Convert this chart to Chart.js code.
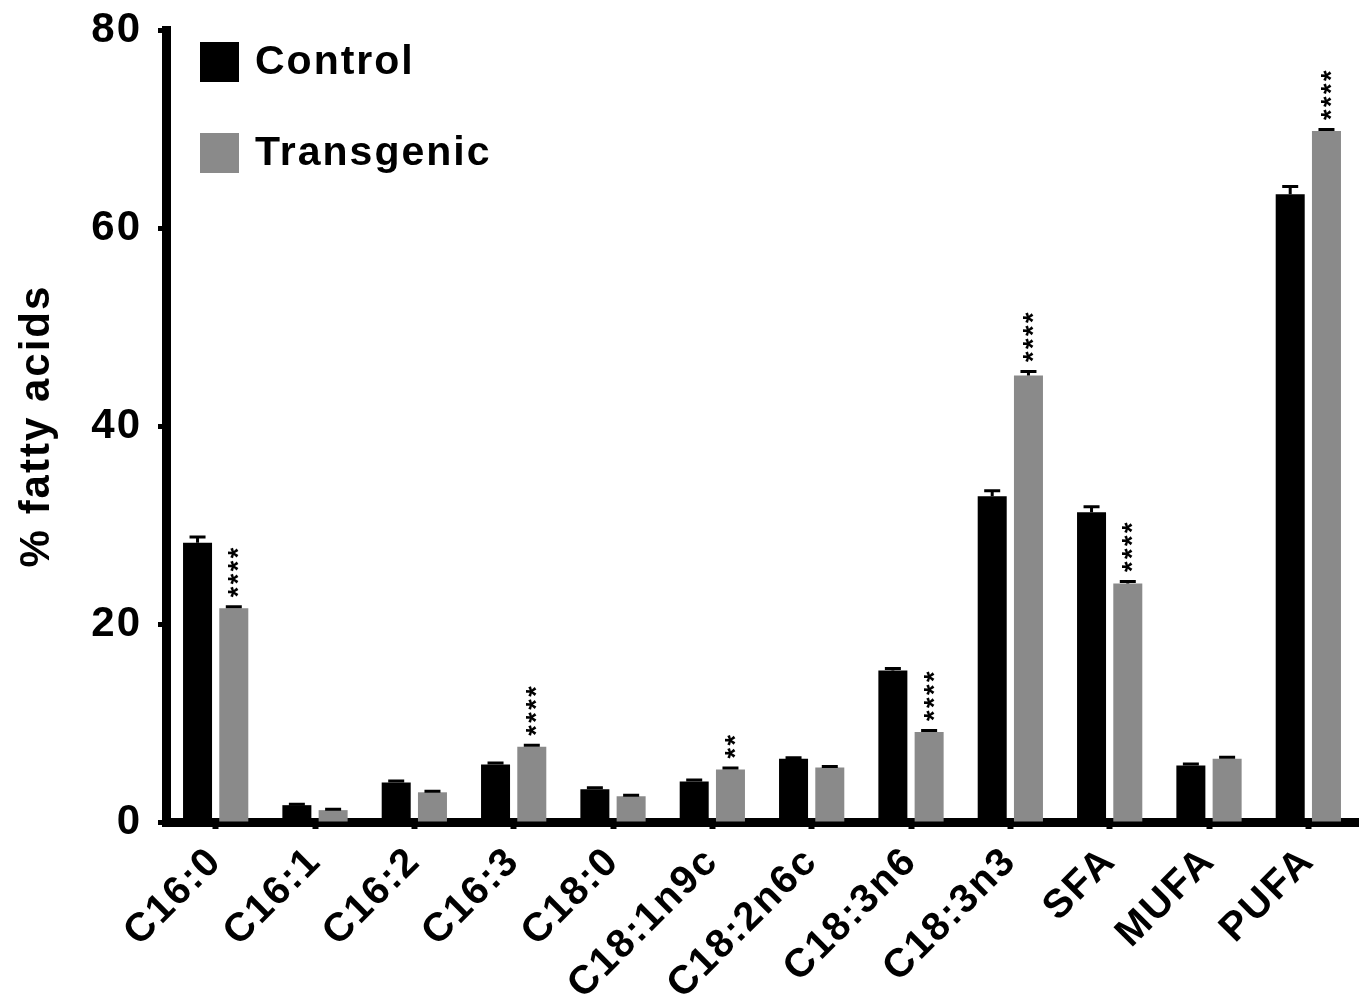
<!DOCTYPE html>
<html>
<head>
<meta charset="utf-8">
<script src="https://cdn.jsdelivr.net/npm/chart.js@4/dist/chart.umd.min.js"></script>
<style>
html,body{margin:0;padding:0;background:#fff;}
#wrap{width:1366px;height:1002px;position:relative;}
</style>
</head>
<body>
<div id="wrap"><canvas id="c"></canvas></div>
<script>
const categories = ['C16:0','C16:1','C16:2','C16:3','C18:0','C18:1n9c','C18:2n6c','C18:3n6','C18:3n3','SFA','MUFA','PUFA'];
const controlValues = [28.2, 1.7, 4.0, 5.8, 3.3, 4.1, 6.4, 15.3, 32.9, 31.3, 5.7, 63.4];
const transgenicValues = [21.6, 1.2, 3.0, 7.6, 2.6, 5.3, 5.5, 9.1, 45.1, 24.1, 6.4, 69.8];
const controlErrors = [0.6, 0.1, 0.15, 0.15, 0.15, 0.15, 0.1, 0.2, 0.55, 0.55, 0.15, 0.8];
const transgenicErrors = [0.15, 0.1, 0.1, 0.15, 0.1, 0.15, 0.1, 0.15, 0.4, 0.2, 0.15, 0.15];
const transgenicSignif = ['****','','','****','','**','','****','****','****','','****'];
const yTicks = [0, 20, 40, 60, 80];

const FONT = "'Liberation Sans', Arial, sans-serif";

const spacingPlugin = {
  id: 'letterSpacing',
  beforeLayout(chart) { if ('letterSpacing' in chart.ctx) chart.ctx.letterSpacing = '2px'; },
  beforeDraw(chart) { if ('letterSpacing' in chart.ctx) chart.ctx.letterSpacing = '2px'; }
};

const errorBarPlugin = {
  id: 'errorBars',
  afterDatasetsDraw(chart) {
    const ctx = chart.ctx;
    const y = chart.scales.y;
    chart.data.datasets.forEach((ds, di) => {
      const meta = chart.getDatasetMeta(di);
      meta.data.forEach((bar, i) => {
        const v = ds.data[i];
        const e = ds.errors[i];
        const yTop = y.getPixelForValue(v + e);
        ctx.save();
        ctx.strokeStyle = '#000';
        ctx.lineWidth = 3;
        ctx.beginPath();
        ctx.moveTo(bar.x, bar.y);
        ctx.lineTo(bar.x, yTop);
        ctx.moveTo(bar.x - 8, yTop);
        ctx.lineTo(bar.x + 8, yTop);
        ctx.stroke();
        const s = ds.signif ? ds.signif[i] : '';
        if (s) {
          ctx.fillStyle = '#000';
          ctx.font = 'bold 27px ' + FONT;
          if ('letterSpacing' in ctx) ctx.letterSpacing = '0px';
          ctx.textAlign = 'left';
          ctx.textBaseline = 'alphabetic';
          const m = ctx.measureText('*');
          const cxOff = (m.actualBoundingBoxRight - m.actualBoundingBoxLeft) / 2;
          const cyOff = (m.actualBoundingBoxAscent - m.actualBoundingBoxDescent) / 2;
          const step = 13;
          for (let k = 0; k < s.length; k++) {
            const cy = yTop - 15 - k * step;
            ctx.save();
            ctx.translate(bar.x, cy);
            ctx.rotate(-Math.PI / 2);
            ctx.fillText('*', -cxOff, cyOff);
            ctx.restore();
          }
        }
        ctx.restore();
      });
    });
  }
};

const legendPlugin = {
  id: 'customLegend',
  afterDraw(chart) {
    const ctx = chart.ctx;
    ctx.save();
    chart.data.datasets.forEach((ds, i) => {
      const top = 42 + i * 91;
      ctx.fillStyle = ds.backgroundColor;
      ctx.fillRect(200, top, 39, 40);
      ctx.fillStyle = '#000';
      ctx.font = 'bold 41px ' + FONT;
      if ('letterSpacing' in ctx) ctx.letterSpacing = '2px';
      ctx.textAlign = 'left';
      ctx.textBaseline = 'middle';
      ctx.fillText(ds.label, 255, top + 21);
    });
    ctx.restore();
  }
};

new Chart(document.getElementById('c'), {
  type: 'bar',
  data: {
    labels: categories,
    datasets: [
      { label: 'Control', data: controlValues, errors: controlErrors, backgroundColor: '#000000', borderWidth: 0 },
      { label: 'Transgenic', data: transgenicValues, errors: transgenicErrors, signif: transgenicSignif, backgroundColor: '#8a8a8a', borderWidth: 0 }
    ]
  },
  options: {
    responsive: true,
    maintainAspectRatio: false,
    animation: false,
    categoryPercentage: 0.73,
    barPercentage: 0.8,
    layout: { padding: { top: 30, right: 8, left: 0, bottom: 0 } },
    plugins: { legend: { display: false }, tooltip: { enabled: false } },
    scales: {
      x: {
        offset: true,
        grid: { display: true, offset: false, drawOnChartArea: false, drawTicks: true, tickLength: 7, tickWidth: 6, tickColor: '#000' },
        border: { display: true, color: '#000', width: 9 },
        ticks: { color: '#000', font: { family: FONT, size: 40, weight: 'bold' }, minRotation: 45, maxRotation: 45, padding: 9, autoSkip: false },
        afterFit(scale) { scale.height = 180; }
      },
      y: {
        min: 0, max: 80,
        afterBuildTicks(scale) { scale.ticks = yTicks.map(v => ({ value: v })); },
        grid: { display: true, drawOnChartArea: false, drawTicks: true, tickLength: 8, tickWidth: 5, tickColor: '#000' },
        border: { display: true, color: '#000', width: 9 },
        ticks: { color: '#000', font: { family: FONT, size: 42, weight: 'bold' }, padding: 16 },
        title: { display: true, text: '% fatty acids', color: '#000', font: { family: FONT, size: 42, weight: 'bold' }, padding: { top: 12, bottom: 0 } },
        afterFit(scale) { scale.width = 166; scale.paddingTop = 0; scale.paddingBottom = 0; }
      }
    }
  },
  plugins: [spacingPlugin, errorBarPlugin, legendPlugin]
});
</script>
</body>
</html>
